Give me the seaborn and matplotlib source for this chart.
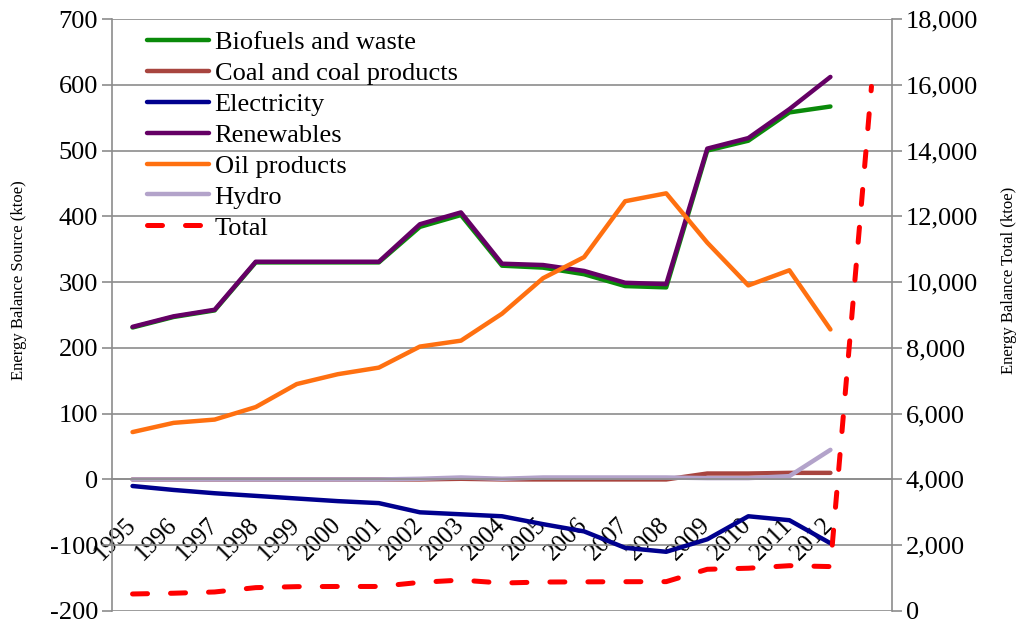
import numpy as np
import pandas as pd
import seaborn as sns
import matplotlib.pyplot as plt
from matplotlib.ticker import FuncFormatter, FixedLocator
from matplotlib.lines import Line2D
import matplotlib.transforms as mtransforms

## data (ktoe)
years = ["1995", "1996", "1997", "1998", "1999", "2000", "2001", "2002", "2003",
         "2004", "2005", "2006", "2007", "2008", "2009", "2010", "2011", "2012"]
tick_labels = years + [""]   # the total line has one more, unlabeled point

biofuels = [231, 247, 257, 330, 330, 330, 330, 384, 402, 325, 322, 312, 294, 292, 500, 515, 558, 567]
coal = [0, 0, 0, 0, 0, 0, 0, 0, 1, 0, 0, 0, 0, 0, 9, 9, 10, 10]
electricity = [-10, -16, -21, -25, -29, -33, -36, -50, -53, -56, -68, -79, -104, -110, -91, -56, -62, -97]
renewables = [232, 248, 258, 331, 331, 331, 331, 388, 406, 328, 326, 317, 299, 297, 503, 519, 563, 612]
oil = [72, 86, 91, 110, 145, 160, 170, 202, 211, 252, 306, 338, 423, 435, 360, 295, 318, 228]
hydro = [0, 0, 0, 0, 0, 0, 0, 1, 3, 1, 3, 3, 3, 3, 2, 2, 5, 45]
total = [517, 540, 578, 710, 740, 745, 745, 870, 940, 850, 880, 885, 890, 892, 1268, 1300, 1377, 1350, 15950]

series = {
    "Biofuels and waste": biofuels,
    "Coal and coal products": coal,
    "Electricity": electricity,
    "Renewables": renewables,
    "Oil products": oil,
    "Hydro": hydro,
}
colors = {
    "Biofuels and waste": "#0A8A0A",
    "Coal and coal products": "#A8453F",
    "Electricity": "#00008E",
    "Renewables": "#650065",
    "Oil products": "#FF7010",
    "Hydro": "#B3A3CA",
}

pos = np.arange(len(tick_labels))
rows = []
for name, vals in series.items():
    for i, v in enumerate(vals):
        rows.append({"x": pos[i], "value": v, "source": name})
df = pd.DataFrame(rows)
df_total = pd.DataFrame({"x": pos, "total": total})

sns.set_style("white")
plt.rcParams["font.family"] = ["Liberation Serif", "DejaVu Serif"]
plt.rcParams["axes.unicode_minus"] = False
plt.rcParams["text.color"] = "black"
plt.rcParams["axes.labelcolor"] = "black"
plt.rcParams["xtick.labelcolor"] = "black"
plt.rcParams["ytick.labelcolor"] = "black"

fs = 19
dash = [3.0, 4.6]
fig = plt.figure(figsize=(10.22, 6.26), dpi=100)
ax = fig.add_axes([0.1096, 0.024, 0.7632, 0.9456])

sns.lineplot(data=df, x="x", y="value", hue="source", hue_order=list(series),
             palette=colors, linewidth=3.2, ax=ax, legend=False)

grid_c = "#8C8C8C"
ax.set_ylim(-200, 700)
ax.set_yticks(np.arange(-200, 701, 100))
ax.set_xlim(-0.5, len(tick_labels) - 0.5)
ax.grid(axis="y", color=grid_c, linewidth=1.2)
ax.grid(axis="x", visible=False)
ax.set_axisbelow(True)
for s in ["top", "right"]:
    ax.spines[s].set_visible(False)
ax.spines["left"].set_color(grid_c)
ax.spines["left"].set_linewidth(1.2)
ax.spines["bottom"].set_position(("data", 0))
ax.spines["bottom"].set_color(grid_c)
ax.spines["bottom"].set_linewidth(1.2)

# category labels at centers, tick marks between categories
ax.xaxis.set_major_locator(FixedLocator(pos[:-1]))
ax.set_xticklabels(years)
ax.xaxis.set_minor_locator(FixedLocator(pos[:-1] + 0.5))
ax.tick_params(axis="x", which="major", length=0, pad=4, labelsize=18)
ax.tick_params(axis="x", which="minor", length=7, width=1.2, color=grid_c, direction="out")
offset = mtransforms.ScaledTranslation(-8 / 100, -29 / 100, fig.dpi_scale_trans)
for lab in ax.get_xticklabels():
    lab.set_rotation(45)
    lab.set_ha("right")
    lab.set_va("top")
    lab.set_rotation_mode("anchor")
    lab.set_transform(lab.get_transform() + offset)
ax.tick_params(axis="y", length=7, width=1.2, color=grid_c, direction="out", labelsize=fs, pad=3)
ax.set_ylabel("Energy Balance Source (ktoe)", fontsize=12)
ax.yaxis.set_label_coords(-0.109, 0.559)
ax.set_xlabel("")

ax2 = ax.twinx()
sns.lineplot(data=df_total, x="x", y="total", color="#FF0000", linewidth=3.6,
             ax=ax2, legend=False)
ax2.lines[0].set_dashes(dash)
ax2.lines[0].set_dash_capstyle("round")
ax2.set_ylim(0, 18000)
ax2.set_yticks(np.arange(0, 18001, 2000))
ax2.yaxis.set_major_formatter(FuncFormatter(lambda v, p: f"{int(v):,}"))
ax2.grid(False)
for s in ["top", "left", "bottom"]:
    ax2.spines[s].set_visible(False)
ax2.spines["right"].set_color(grid_c)
ax2.spines["right"].set_linewidth(1.2)
ax2.tick_params(axis="y", length=7, width=1.2, color=grid_c, direction="out", labelsize=fs, pad=3)
ax2.set_ylabel("Energy Balance Total (ktoe)", fontsize=12)
ax2.yaxis.set_label_coords(1.14, 0.559)
ax2.set_xlabel("")

handles = [Line2D([], [], color=colors[n], linewidth=3.2, solid_capstyle="round") for n in series]
handles.append(Line2D([], [], color="#FF0000", linewidth=3.6, dashes=dash, dash_capstyle="round"))
names = list(series) + ["Total"]
ax2.legend(handles, names, loc="upper left", bbox_to_anchor=(0.03, 1.0), frameon=False,
           fontsize=fs, handlelength=2.35, handletextpad=0.2, labelspacing=0.28,
           borderaxespad=0.05)

fig.savefig("out.png", dpi=100)
